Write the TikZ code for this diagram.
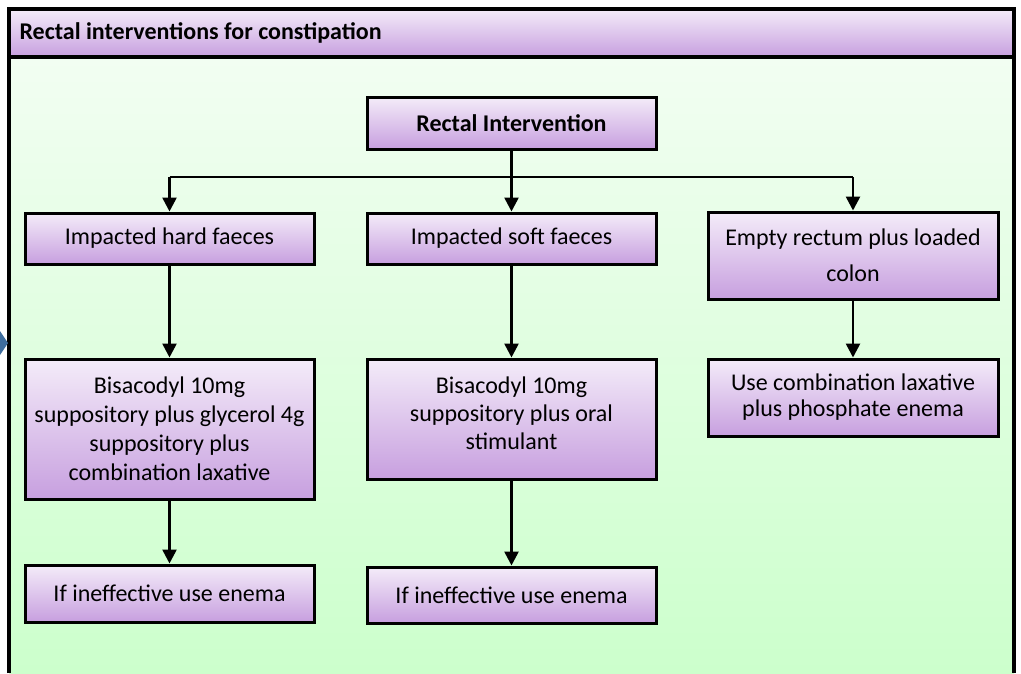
\documentclass[tikz,border=0pt]{standalone}
\usepackage{fontspec}
\setmainfont{Carlito}
\usetikzlibrary{arrows.meta}
\definecolor{boxtop}{HTML}{F4ECF9}
\definecolor{boxbot}{HTML}{C79FDF}
\definecolor{greentop}{HTML}{F2FEF2}
\definecolor{greenbot}{HTML}{CCFFCC}
\definecolor{tipblue}{HTML}{3E6D9E}
\begin{document}
\begin{tikzpicture}[x=1pt, y=-1pt,
   stepbox/.style={draw, line width=3pt, top color=boxtop, bottom color=boxbot,
     minimum width=289pt, inner sep=0pt, align=center,
     font=\fontsize{24}{29}\selectfont},
   arr/.style={line width=2.6pt, -{Triangle[width=14pt,length=14pt]}}]
   \useasboundingbox (0,0) rectangle (1021,673);
   % background panel and title bar
   \shade[top color=greentop, bottom color=greenbot] (9,57) rectangle (1014,673);
   \shade[top color=boxtop, bottom color=boxbot] (9,9) rectangle (1014,57);
   \draw[line width=3.5pt] (9,673) -- (9,9) -- (1014,9) -- (1014,673);
   \draw[line width=3.5pt] (9,57) -- (1014,57);
   \node[anchor=west, font=\fontsize{24}{28}\selectfont\bfseries] (title) at (16,33)
     {Rectal interventions for constipation};
   \fill[tipblue] (0,331) -- (8,343) -- (0,355) -- cycle;
   % boxes
   \node[stepbox, minimum height=52pt, font=\fontsize{24}{28}\selectfont\bfseries] (top) at (511.5,123) {Rectal Intervention};
   \node[stepbox, minimum height=51pt] (hard) at (169.5,238.5) {Impacted hard faeces};
   \node[stepbox, minimum height=51pt] (soft) at (511.5,238.5) {Impacted soft faeces};
   \node[stepbox, minimum width=290pt, minimum height=87pt, font=\fontsize{24}{36}\selectfont] (empty) at (853,255.5) {Empty rectum plus loaded\\colon};
   \node[stepbox, minimum width=290pt, minimum height=77pt, font=\fontsize{24}{26}\selectfont] (comb) at (853,397.5) {Use combination laxative\\plus phosphate enema};
   \node[stepbox, minimum height=140pt] (bisa1) at (169.5,429) {Bisacodyl 10mg\\suppository plus glycerol 4g\\suppository plus\\combination laxative};
   \node[stepbox, minimum height=120pt, text depth=12pt, font=\fontsize{24}{28}\selectfont] (bisa2) at (511.5,419) {Bisacodyl 10mg\\suppository plus oral\\stimulant};
   \node[stepbox, minimum height=57pt] (enema1) at (169.5,593.5) {If ineffective use enema};
   \node[stepbox, minimum height=56pt] (enema2) at (511.5,595) {If ineffective use enema};
   % connectors
   \coordinate (bus) at (511.5,177);
   \draw[line width=1.6pt] (hard.north |- bus) -- (empty.north |- bus);
   \draw[arr] (top) -- (soft);
   \draw[arr] (hard.north |- bus) -- (hard);
   \draw[arr] (empty.north |- bus) -- (empty);
   \draw[arr] (hard) -- (bisa1);
   \draw[arr] (soft) -- (bisa2);
   \draw[arr] (empty) -- (comb);
   \draw[arr] (bisa1) -- (enema1);
   \draw[arr] (bisa2) -- (enema2);
\end{tikzpicture}
\end{document}
